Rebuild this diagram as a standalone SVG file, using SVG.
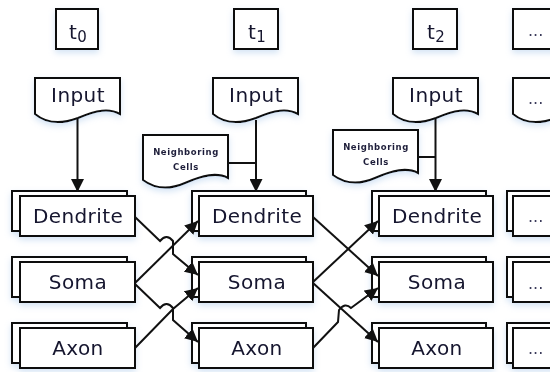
<svg xmlns="http://www.w3.org/2000/svg" width="550" height="372" viewBox="0 0 550 372">
<style>
.box{fill:#fff;stroke:#111;stroke-width:2}
.lbl{font-family:"DejaVu Sans",sans-serif;font-size:20px;letter-spacing:0.4px;fill:#14142e;text-anchor:middle}
.dots{font-family:"DejaVu Sans",sans-serif;font-size:16px;fill:#3a3a5a}
.nb{font-family:"DejaVu Sans",sans-serif;font-size:8.5px;font-weight:bold;letter-spacing:0.6px;fill:#1f1f3a;text-anchor:middle}
.con{fill:none;stroke:#111;stroke-width:2}
.arr{marker-end:url(#ah)}
.node{filter:url(#sh)}
</style>
<defs>
<marker id="ah" markerUnits="userSpaceOnUse" viewBox="0 0 13 13" markerWidth="13" markerHeight="13" refX="13" refY="6.5" orient="auto">
<path d="M0,0 L13,6.5 L0,13 Z" fill="#111"/>
</marker>
<filter id="sh" x="-20%" y="-20%" width="140%" height="150%">
<feDropShadow dx="0" dy="3" stdDeviation="3" flood-color="#9fc2e8" flood-opacity="0.45"/>
</filter>
<path id="doc" d="M0,0 H85 V36 C74,30 62,32 43,40 C27,46 12,46 0,36 Z"/>
<path id="ndoc" d="M0,0 H85 V43 C74,37 60,40 42,48 C26,55 12,54 0,45 Z"/>
</defs>
<rect width="550" height="372" fill="#fff"/>

<!-- time labels -->
<g id="t0" class="node"><rect class="box" x="56" y="9" width="42" height="40"/><text class="lbl" x="78" y="39">t<tspan font-size="15" dy="3">0</tspan></text></g>
<g id="t1" class="node"><rect class="box" x="234" y="9" width="44" height="40"/><text class="lbl" x="257" y="39">t<tspan font-size="15" dy="3">1</tspan></text></g>
<g id="t2" class="node"><rect class="box" x="413" y="9" width="44" height="40"/><text class="lbl" x="436" y="39">t<tspan font-size="15" dy="3">2</tspan></text></g>
<g id="tn" class="node"><rect class="box" x="513" y="9" width="44" height="40"/><text class="dots" x="528" y="36">...</text></g>

<!-- inputs -->
<g id="input0" class="node"><use href="#doc" class="box" x="35" y="78"/><text class="lbl" x="78" y="102">Input</text></g>
<g id="input1" class="node"><use href="#doc" class="box" x="213" y="78"/><text class="lbl" x="256" y="102">Input</text></g>
<g id="input2" class="node"><use href="#doc" class="box" x="393" y="78"/><text class="lbl" x="436" y="102">Input</text></g>
<g id="inputn" class="node"><use href="#doc" class="box" x="513" y="78"/><text class="dots" x="528" y="104">...</text></g>

<!-- neighboring cells -->
<g id="neigh1" class="node"><use href="#ndoc" class="box" x="143" y="135"/><text class="nb" x="186" y="155">Neighboring</text><text class="nb" x="186" y="170">Cells</text></g>
<g id="neigh2" class="node"><use href="#ndoc" class="box" x="333" y="130"/><text class="nb" x="376" y="150">Neighboring</text><text class="nb" x="376" y="165">Cells</text></g>

<!-- column t0 -->
<g id="dendrite0" class="node"><rect class="box" x="12" y="191" width="115" height="40"/><rect class="box" x="20" y="196" width="115" height="40"/><text class="lbl" x="78" y="223">Dendrite</text></g>
<g id="soma0" class="node"><rect class="box" x="12" y="257" width="115" height="40"/><rect class="box" x="20" y="262" width="115" height="40"/><text class="lbl" x="78" y="289">Soma</text></g>
<g id="axon0" class="node"><rect class="box" x="12" y="323" width="115" height="40"/><rect class="box" x="20" y="328" width="115" height="40"/><text class="lbl" x="78" y="355">Axon</text></g>

<!-- column t1 -->
<g id="dendrite1" class="node"><rect class="box" x="192" y="191" width="114" height="40"/><rect class="box" x="199" y="196" width="114" height="40"/><text class="lbl" x="257" y="223">Dendrite</text></g>
<g id="soma1" class="node"><rect class="box" x="192" y="257" width="114" height="40"/><rect class="box" x="199" y="262" width="114" height="40"/><text class="lbl" x="257" y="289">Soma</text></g>
<g id="axon1" class="node"><rect class="box" x="192" y="323" width="114" height="40"/><rect class="box" x="199" y="328" width="114" height="40"/><text class="lbl" x="257" y="355">Axon</text></g>

<!-- column t2 -->
<g id="dendrite2" class="node"><rect class="box" x="372" y="191" width="114" height="40"/><rect class="box" x="379" y="196" width="114" height="40"/><text class="lbl" x="437" y="223">Dendrite</text></g>
<g id="soma2" class="node"><rect class="box" x="372" y="257" width="114" height="40"/><rect class="box" x="379" y="262" width="114" height="40"/><text class="lbl" x="437" y="289">Soma</text></g>
<g id="axon2" class="node"><rect class="box" x="372" y="323" width="114" height="40"/><rect class="box" x="379" y="328" width="114" height="40"/><text class="lbl" x="437" y="355">Axon</text></g>

<!-- column ... -->
<g id="dendriten" class="node"><rect class="box" x="507" y="191" width="114" height="40"/><rect class="box" x="513" y="196" width="114" height="40"/><text class="dots" x="528" y="222">...</text></g>
<g id="soman" class="node"><rect class="box" x="507" y="257" width="114" height="40"/><rect class="box" x="513" y="262" width="114" height="40"/><text class="dots" x="528" y="289">...</text></g>
<g id="axonn" class="node"><rect class="box" x="507" y="323" width="114" height="40"/><rect class="box" x="513" y="328" width="114" height="40"/><text class="dots" x="528" y="354">...</text></g>

<!-- connectors -->
<g id="connectors">
<path class="con arr" d="M77.5,119 V192"/>
<path class="con arr" d="M256,120 V192"/>
<path class="con" d="M228,163 H256"/>
<path class="con arr" d="M435.5,119 V192"/>
<path class="con" d="M418,157 H435.5"/>

<path class="con arr" d="M135,217 L160,241 Q166.5,233 173,241 L173,254 L198,275"/>
<path class="con arr" d="M135,283 L198,221"/>
<path class="con arr" d="M135,284 L160,308 Q166.5,300 173,308 L173,320 L198,342"/>
<path class="con arr" d="M135,348 L173,309 L198,288"/>

<path class="con arr" d="M313,217 L378,276"/>
<path class="con arr" d="M313,282 L378,221"/>
<path class="con arr" d="M313,283 L378,342"/>
<path class="con arr" d="M313,348 L338,322 L339,310 Q345,302 351,308 L378,288"/>
</g>
</svg>
